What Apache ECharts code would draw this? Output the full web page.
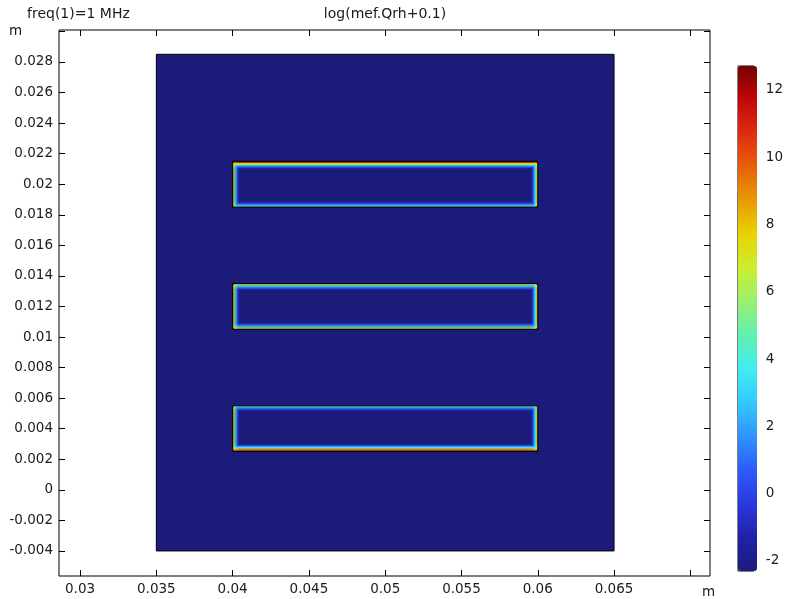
<!DOCTYPE html>
<html>
<head>
<meta charset="utf-8">
<script src="https://cdn.jsdelivr.net/npm/echarts@6/dist/echarts.min.js"></script>
<style>
  html, body { margin: 0; padding: 0; background: #fff; }
  #main { width: 786px; height: 599px; }
</style>
</head>
<body>
<div id="main"></div>
<script>
// axis ranges (m)
const xMin = 0.02862, xMax = 0.07129;
const yMin = -0.00564, yMax = 0.03009;
const xTicks = [0.03, 0.035, 0.04, 0.045, 0.05, 0.055, 0.06, 0.065, 0.07];
const xLabels = [0.03, 0.035, 0.04, 0.045, 0.05, 0.055, 0.06, 0.065];
const yTicks = [-0.004, -0.002, 0, 0.002, 0.004, 0.006, 0.008, 0.01, 0.012, 0.014,
  0.016, 0.018, 0.02, 0.022, 0.024, 0.026, 0.028, 0.03];
const yLabels = yTicks.slice(0, -1);

// colour range of log(mef.Qrh+0.1)
const qMin = -2.3, qMax = 12.71;
const cbTicks = [-2, 0, 2, 4, 6, 8, 10, 12];

// geometry: [x0, x1, y0, y1]
const domainBox = [0.035, 0.065, -0.004, 0.0285];
const condX = [0.04, 0.06];
const condY = [[0.0185, 0.0215], [0.0105, 0.0135], [0.0025, 0.0055]];

// skin layer: values from the surface inwards, one per band
const bandDepth = 0.00006;
const topEdge = [
  [12.0, 10.0, 7.8, 5.6, 3.6, 1.8, 0.3, -1.0],
  [7.2, 6.0, 4.4, 2.8, 1.3, 0, -1.2],
  [4.4, 3.4, 2.0, 0.8, -0.3, -1.3]
];
const bottomEdge = [
  [4.4, 3.4, 2.0, 0.8, -0.3, -1.3],
  [7.2, 6.0, 4.4, 2.8, 1.3, 0, -1.2],
  [12.0, 10.0, 7.8, 5.6, 3.6, 1.8, 0.3, -1.0]
];
const leftEdge = [
  [8.0, 6.6, 4.6, 2.8, 1.2, 0, -1.2],
  [8.2, 6.8, 4.8, 3.0, 1.4, 0, -1.2],
  [8.0, 6.6, 4.6, 2.8, 1.2, 0, -1.2]
];
const rightEdge = [
  [7.6, 6.2, 4.3, 2.6, 1.1, 0, -1.2],
  [8.0, 6.6, 4.6, 2.8, 1.3, 0, -1.2],
  [7.6, 6.2, 4.3, 2.6, 1.1, 0, -1.2]
];
// corner values [top-left, top-right, bottom-left, bottom-right]
const cornerQ = [
  [12.4, 12.4, 10.5, 10.5],
  [11.5, 11.5, 11.5, 11.5],
  [10.5, 10.5, 12.4, 12.4]
];

const jet = ['#1b1b7a', '#2222a8', '#2a38e0', '#2c5cf8', '#3094ff', '#34c8ff',
  '#40ecf0', '#60f0b0', '#98f070', '#ccee30', '#e8d400', '#e89a00', '#e86008',
  '#e02c10', '#c00808', '#780000'];

// build heat rectangles [x0, x1, y0, y1, q]
var bands = [];
condY.forEach(function (yy, i) {
  var x0 = condX[0], x1 = condX[1], y0 = yy[0], y1 = yy[1], d = bandDepth;
  topEdge[i].forEach(function (q, k) { bands.push([x0, x1, y1 - (k + 1) * d, y1 - k * d, q]); });
  bottomEdge[i].forEach(function (q, k) { bands.push([x0, x1, y0 + k * d, y0 + (k + 1) * d, q]); });
  leftEdge[i].forEach(function (q, k) { bands.push([x0 + k * d, x0 + (k + 1) * d, y0, y1, q]); });
  rightEdge[i].forEach(function (q, k) { bands.push([x1 - (k + 1) * d, x1 - k * d, y0, y1, q]); });
  var c = cornerQ[i], s = 1.5 * d;
  bands.push([x0, x0 + s, y1 - s, y1, c[0]]);
  bands.push([x1 - s, x1, y1 - s, y1, c[1]]);
  bands.push([x0, x0 + s, y0, y0 + s, c[2]]);
  bands.push([x1 - s, x1, y0, y0 + s, c[3]]);
});
bands.sort(function (a, b) { return a[4] - b[4]; });
var heatRects = [domainBox.concat([qMin])].concat(bands);
var outlines = [domainBox].concat(condY.map(function (yy) { return [condX[0], condX[1], yy[0], yy[1]]; }));

var fmt = function (v) { return String(parseFloat((+v).toFixed(4))); };
var ff = 'DejaVu Sans', fs = 13.5, tc = '#1a1a1a';

function rectShape(api) {
  var p0 = api.coord([api.value(0), api.value(3)]);
  var p1 = api.coord([api.value(1), api.value(2)]);
  return { x: p0[0], y: p0[1], width: p1[0] - p0[0], height: p1[1] - p0[1] };
}
function tickAxis(ticks, labels, pos, extra) {
  return Object.assign({
    type: 'value', position: pos,
    axisLine: { show: false, onZero: false }, splitLine: { show: false },
    axisTick: { inside: true, length: 6, customValues: ticks, lineStyle: { color: '#000' } },
    axisLabel: labels ? { customValues: labels, formatter: fmt, margin: 6, fontFamily: ff, fontSize: fs, color: tc } : { show: false }
  }, extra);
}

var myChart = echarts.init(document.getElementById('main'), null, { renderer: 'canvas' });
var option = {
  animation: false,
  title: [
    { text: 'freq(1)=1 MHz', left: 27, top: 7, padding: 0, textStyle: { fontWeight: 'normal', fontFamily: ff, fontSize: 14, color: tc } },
    { text: 'log(mef.Qrh+0.1)', left: 385, top: 7, padding: 0, textAlign: 'center', textStyle: { fontWeight: 'normal', fontFamily: ff, fontSize: 14, color: tc } }
  ],
  graphic: [
    { type: 'text', left: 9, top: 24, style: { text: 'm', fill: tc, font: '13.5px DejaVu Sans' } },
    { type: 'text', left: 702, top: 585, style: { text: 'm', fill: tc, font: '13.5px DejaVu Sans' } }
  ],
  grid: [
    { left: 59, top: 30, width: 651, height: 546, show: true, borderColor: '#000', borderWidth: 1, backgroundColor: 'transparent' },
    { left: 738, top: 66, width: 19, height: 505, show: true, borderColor: '#000', borderWidth: 1 }
  ],
  visualMap: {
    type: 'continuous', seriesIndex: 0, dimension: 4, min: qMin, max: qMax,
    calculable: false, left: 738, top: 66, itemWidth: 19, itemHeight: 505, padding: 0,
    text: null, showLabel: false, hoverLink: false,
    inRange: { color: jet }
  },
  xAxis: [
    tickAxis(xTicks, xLabels, 'bottom', { gridIndex: 0, min: xMin, max: xMax }),
    tickAxis(xTicks, null, 'top', { gridIndex: 0, min: xMin, max: xMax }),
    { gridIndex: 1, type: 'value', min: 0, max: 1, show: false }
  ],
  yAxis: [
    tickAxis(yTicks, yLabels, 'left', { gridIndex: 0, min: yMin, max: yMax }),
    tickAxis(yTicks, null, 'right', { gridIndex: 0, min: yMin, max: yMax }),
    { gridIndex: 1, type: 'value', min: qMin, max: qMax, position: 'right',
      axisLine: { show: false, onZero: false }, splitLine: { show: false },
      axisTick: { inside: true, length: 4, customValues: cbTicks, lineStyle: { color: '#000' } },
      axisLabel: { customValues: cbTicks, margin: 12, fontFamily: ff, fontSize: fs, color: tc } },
    { gridIndex: 1, type: 'value', min: qMin, max: qMax, position: 'left',
      axisLine: { show: false, onZero: false }, splitLine: { show: false },
      axisTick: { inside: true, length: 4, customValues: cbTicks, lineStyle: { color: '#000' } },
      axisLabel: { show: false } }
  ],
  series: [
    {
      type: 'custom', name: 'heat', xAxisIndex: 0, yAxisIndex: 0, clip: true, silent: true,
      data: heatRects,
      renderItem: function (params, api) {
        return { type: 'rect', shape: rectShape(api), style: { fill: api.visual('color') } };
      }
    },
    {
      type: 'custom', name: 'outline', xAxisIndex: 0, yAxisIndex: 0, clip: true, silent: true,
      data: outlines,
      renderItem: function (params, api) {
        return { type: 'rect', shape: rectShape(api), style: { fill: 'none', stroke: '#000', lineWidth: 1 } };
      }
    }
  ]
};
myChart.setOption(option);
window.addEventListener('resize', myChart.resize);
</script>
</body>
</html>
